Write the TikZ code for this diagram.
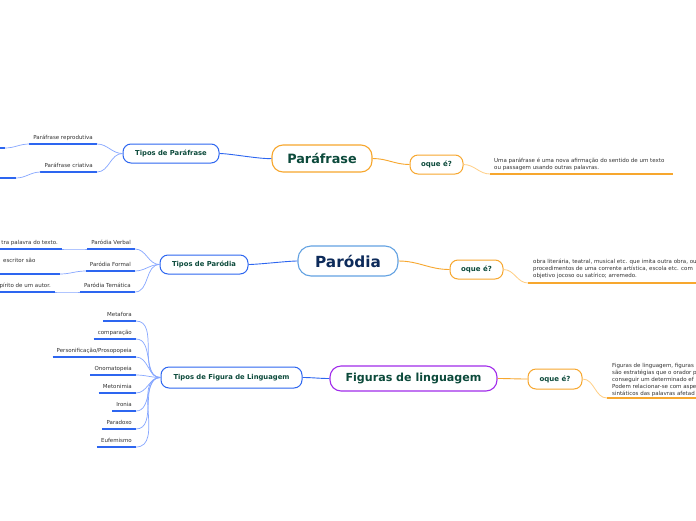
\documentclass[tikz,border=0pt]{standalone}
\usepackage{fontspec}
\setmainfont{DejaVu Sans}
\definecolor{orn}{HTML}{F7A72E}
\definecolor{orl}{HTML}{FFCF85}
\definecolor{blu}{HTML}{2D66F0}
\definecolor{bll}{HTML}{86A7FF}
\definecolor{dgreen}{HTML}{0C4A3B}
\definecolor{navy}{HTML}{0C2A5A}
\definecolor{txt}{HTML}{333333}
\definecolor{purp}{HTML}{A12CEB}
\definecolor{lblue}{HTML}{63A2E2}
\begin{document}
\begin{tikzpicture}[x=1pt,y=-1pt,
  mainbox/.style={draw, fill=white, line width=1.1pt, inner sep=0pt},
  oqbox/.style={draw=orn, fill=white, line width=1pt, rounded corners=8pt, inner sep=0pt,
    minimum width=53pt, minimum height=19pt, text=dgreen, font=\bfseries\fontsize{7}{8}\selectfont},
  tipbox/.style={draw=blu, fill=white, line width=1pt, rounded corners=8pt, inner sep=0pt,
    minimum height=19pt, text=dgreen, font=\bfseries\fontsize{6.8}{8}\selectfont},
  leaf/.style={anchor=south east, text=txt, font=\fontsize{5.5}{6.6}\selectfont,
    inner xsep=4pt, inner ysep=3.2pt, text height=4.2pt, text depth=1.2pt},
  desc/.style={anchor=north west, text=txt, font=\fontsize{5.5}{6.9}\selectfont,
    inner sep=0pt, align=left},
  uline/.style={blu, line width=1.8pt},
  thinb/.style={bll, line width=0.7pt},
  oline/.style={orn, line width=1.5pt},
  thino/.style={orl, line width=0.8pt}
]
\useasboundingbox (0,0) rectangle (696,520);
\clip (0,0) rectangle (696,520);
\fill[white] (0,0) rectangle (696,520);

% ---------- Paráfrase ----------
\node[mainbox, draw=orn, rounded corners=11pt, minimum width=100pt, minimum height=27pt,
  text=dgreen, font=\bfseries\fontsize{12.8}{15}\selectfont] (para) at (322,158.5) {Paráfrase};
\node[oqbox] (oq1) at (436.5,164.5) {oque é?};
\node[tipbox, minimum width=96pt] (tp) at (171,153.5) {Tipos de Paráfrase};
\draw[orn, line width=0.9pt] (para.east) to[out=0,in=180] (oq1.west);
\draw[blu, line width=0.9pt] (para.west) to[out=185,in=0,looseness=0.5] (tp.east);
\coordinate (d1s) at (490,174);
\coordinate (d1e) at (673,174);
\draw[thino] (oq1.east) to[out=0,in=180] (d1s);
\draw[oline] (d1s) -- (d1e);
\node[desc] (d1) at (494,157.5) {Uma paráfrase é uma nova afirmação do sentido de um texto\\ou passagem usando outras palavras.};

\node[leaf] (pr) at (97,144) {Paráfrase reprodutiva};
\node[leaf] (pc) at (97,172) {Paráfrase criativa};
\foreach \n in {pr,pc} {
  \draw[uline] (\n.south west) -- (\n.south east);
  \draw[thinb] (tp.west) to[out=180,in=0] (\n.south east);
}
\coordinate (g1s) at (-10,148); \coordinate (g1e) at (5,148);
\coordinate (g2s) at (-10,178); \coordinate (g2e) at (16,178);
\draw[uline] (g1s) -- (g1e);
\draw[uline] (g2s) -- (g2e);
\draw[thinb] (pr.south west) to[out=180,in=0] (g1e);
\draw[thinb] (pc.south west) to[out=180,in=0] (g2e);

% ---------- Paródia ----------
\node[mainbox, draw=lblue, rounded corners=13pt, minimum width=100pt, minimum height=30pt,
  text=navy, font=\bfseries\fontsize{15.3}{18}\selectfont] (parod) at (348,261) {Paródia};
\node[oqbox] (oq2) at (476.5,269.5) {oque é?};
\node[tipbox, minimum width=88pt] (tpo) at (204,264.5) {Tipos de Paródia};
\draw[orn, line width=0.9pt] (parod.east) to[out=0,in=180] (oq2.west);
\draw[blu, line width=0.9pt] (parod.west) to[out=180,in=0,looseness=0.5] (tpo.east);
\coordinate (d2s) at (528,283);
\coordinate (d2e) at (705,283);
\draw[thino] (oq2.east) to[out=0,in=180] (d2s);
\draw[oline] (d2s) -- (d2e);
\node[desc] (d2) at (533,259.3) {obra literária, teatral, musical etc. que imita outra obra, ou\\procedimentos de uma corrente artística, escola etc. com\\objetivo jocoso ou satírico; arremedo.};

\node[leaf] (pv) at (135,249) {Paródia Verbal};
\node[leaf] (pf) at (135,271) {Paródia Formal};
\node[leaf] (pt) at (135,292) {Paródia Temática};
\foreach \n in {pv,pf,pt} {
  \draw[uline] (\n.south west) -- (\n.south east);
  \draw[thinb] (tpo.west) to[out=180,in=0] (\n.south east);
}
\node[leaf] (gv) at (62,249) {tra palavra do texto.};
\draw[uline] (gv.south west) -- (gv.south east);
\draw[thinb] (pv.south west) to[out=180,in=0] (gv.south east);
\node[anchor=base west, text=txt, font=\fontsize{5.5}{6.6}\selectfont, inner sep=0pt] (gf) at (3,262.5) {escritor são};
\coordinate (gfs) at (-10,274); \coordinate (gfe) at (60,274);
\draw[uline] (gfs) -- (gfe);
\draw[thinb] (pf.south west) to[out=180,in=0] (gfe);
\node[leaf] (gt) at (55,292) {pírito de um autor.};
\draw[uline] (gt.south west) -- (gt.south east);
\draw[thinb] (pt.south west) to[out=180,in=0] (gt.south east);

% ---------- Figuras de linguagem ----------
\node[mainbox, draw=purp, rounded corners=11pt, minimum width=167pt, minimum height=25pt,
  text=dgreen, font=\bfseries\fontsize{11.1}{13}\selectfont] (fig) at (413.5,378.5) {Figuras de linguagem};
\node[oqbox, minimum width=54pt, minimum height=20pt] (oq3) at (555,379) {oque é?};
\node[tipbox, minimum width=141pt, minimum height=21pt] (tf) at (231.5,377.5) {Tipos de Figura de Linguagem};
\draw[orn, line width=0.9pt] (fig.east) to[out=0,in=180] (oq3.west);
\draw[blu, line width=0.9pt] (fig.west) to[out=180,in=0] (tf.east);
\coordinate (d3s) at (607,398);
\coordinate (d3e) at (705,398);
\draw[thino] (oq3.east) to[out=0,in=180] (d3s);
\draw[oline] (d3s) -- (d3e);
\node[desc] (d3) at (612,363.3) {Figuras de linguagem, figuras\\são estratégias que o orador p\\conseguir um determinado ef\\Podem relacionar-se com aspe\\sintáticos das palavras afetad};

\node[leaf] (f1) at (136,321) {Metafora};
\node[leaf] (f2) at (136,339) {comparação};
\node[leaf] (f3) at (136,357) {Personificação/Prosopopeia};
\node[leaf] (f4) at (136,375) {Onomatopeia};
\node[leaf] (f5) at (136,393) {Metonimia};
\node[leaf] (f6) at (136,411) {Ironia};
\node[leaf] (f7) at (136,429) {Paradoxo};
\node[leaf] (f8) at (136,447) {Eufemismo};
\foreach \n in {f1,f2,f3,f4,f5,f6,f7,f8} {
  \draw[uline] (\n.south west) -- (\n.south east);
  \draw[thinb] (tf.west) to[out=180,in=0] (\n.south east);
}
\end{tikzpicture}
\end{document}
